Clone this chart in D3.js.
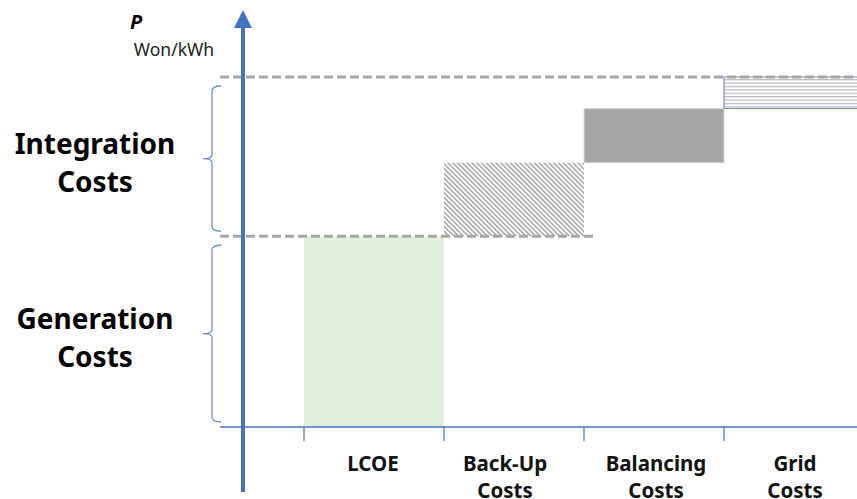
<!DOCTYPE html>
<html><head><meta charset="utf-8">
<script src="https://cdn.jsdelivr.net/npm/d3@7"></script>
<style>body{margin:0;background:#fff}svg{display:block}text{font-family:"Noto Sans",sans-serif}</style>
</head><body>
<svg id="c" width="857" height="499"></svg>
<script>
const categories = ["LCOE", "Back-Up Costs", "Balancing Costs", "Grid Costs"];
const categoryLines = [["LCOE"], ["Back-Up", "Costs"], ["Balancing", "Costs"], ["Grid", "Costs"]];
const costValues = [54.5, 21, 15.5, 9];
const groupNames = [["Generation", "Costs"], ["Integration", "Costs"]];
const groupRanges = [[0, 54.5], [54.5, 100]];
const yUnit = ["P", "Won/kWh"];

const svg = d3.select("#c");
const blue = "#4472c4", gray = "#a6a6a6";

const y = d3.scaleLinear().domain([0, 100]).range([427, 77]);
const x = d3.scaleBand().domain(categories).range([304, 864]).padding(0);

let acc = 0;
const bars = categories.map((c, i) => { const b = {c, y0: acc, y1: acc + costValues[i]}; acc += costValues[i]; return b; });
const total = acc;

const defs = svg.append("defs");
const p1 = defs.append("pattern").attr("id", "diag").attr("patternUnits", "userSpaceOnUse")
  .attr("width", 3.4).attr("height", 10).attr("patternTransform", "rotate(-45)");
p1.append("line").attr("x1", 1).attr("x2", 1).attr("y1", 0).attr("y2", 10).attr("stroke", gray).attr("stroke-width", 1.6);
const p2 = defs.append("pattern").attr("id", "horiz").attr("patternUnits", "userSpaceOnUse")
  .attr("width", 10).attr("height", 3.4);
p2.append("line").attr("x1", 0).attr("x2", 10).attr("y1", 1.5).attr("y2", 1.5).attr("stroke", "#b4b4b4").attr("stroke-width", 1.1);
defs.append("clipPath").attr("id", "clip").append("rect").attr("x", 0).attr("y", 0).attr("width", 857).attr("height", 499);

const g = svg.append("g").attr("clip-path", "url(#clip)");
const fills = ["#e2efda", "url(#diag)", "#a5a5a5", "url(#horiz)"];
const strokes = ["none", "none", "#d9d9d9", "none"];
g.selectAll("rect.bar").data(bars).join("rect").attr("class", "bar")
  .attr("x", d => x(d.c)).attr("width", x.bandwidth())
  .attr("y", d => y(d.y1)).attr("height", d => y(d.y0) - y(d.y1))
  .attr("fill", (d, i) => fills[i]).attr("stroke", (d, i) => strokes[i]).attr("stroke-width", 1);
const gb = bars[3];
g.append("path").attr("d", `M${x(gb.c) + x.bandwidth() + 5},${y(gb.y1)} H${x(gb.c)} V${y(gb.y0)} H${x(gb.c) + x.bandwidth() + 5}`)
  .attr("fill", "none").attr("stroke", "#6f8fcf").attr("stroke-width", 1.2);

svg.append("line").attr("x1", 220).attr("x2", 857).attr("y1", y(total)).attr("y2", y(total))
  .attr("stroke", gray).attr("stroke-width", 3).attr("stroke-dasharray", "9,4");
svg.append("line").attr("x1", 220).attr("x2", x(categories[2]) + 9).attr("y1", y(bars[0].y1)).attr("y2", y(bars[0].y1))
  .attr("stroke", gray).attr("stroke-width", 3).attr("stroke-dasharray", "9,4");

svg.append("line").attr("x1", 220).attr("x2", 857).attr("y1", y(0)).attr("y2", y(0)).attr("stroke", blue).attr("stroke-width", 1.3);
svg.selectAll("line.tick").data(categories).join("line").attr("class", "tick")
  .attr("x1", d => x(d)).attr("x2", d => x(d)).attr("y1", y(0)).attr("y2", y(0) + 14)
  .attr("stroke", blue).attr("stroke-width", 1.2);

const labelNudge = [-1, -9, 2, 1];
categoryLines.forEach((lines, i) => {
  const cx = x(categories[i]) + x.bandwidth() / 2 + labelNudge[i];
  const t = svg.append("text").attr("x", cx).attr("y", 471)
    .attr("text-anchor", "middle").attr("font-size", 20.5).attr("font-weight", "bold").attr("fill", "#111");
  lines.forEach((l, j) => t.append("tspan").attr("x", cx).attr("dy", j ? 27 : 0).text(l));
});

svg.append("line").attr("x1", 243).attr("x2", 243).attr("y1", 492).attr("y2", 26).attr("stroke", blue).attr("stroke-width", 4);
svg.append("path").attr("d", "M243,10 L252,28 L234,28 Z").attr("fill", blue);

svg.append("text").attr("x", 130).attr("y", 29).attr("font-size", 20).attr("font-weight", "bold").attr("font-style", "italic").text(yUnit[0]);
svg.append("text").attr("x", 174).attr("y", 56).attr("text-anchor", "middle").attr("font-size", 17.5).attr("fill", "#222").text(yUnit[1]);

groupRanges.forEach((r, i) => {
  const top = y(r[1]) + 9, bot = y(r[0]) - 5, mid = (top + bot) / 2;
  svg.append("path").attr("d",
    `M221,${top} Q212,${top} 212,${top + 5} V${mid - 4} Q212,${mid} 203,${mid} Q212,${mid} 212,${mid + 4} V${bot - 5} Q212,${bot} 221,${bot}`)
    .attr("fill", "none").attr("stroke", "#6f8fcf").attr("stroke-width", 1.3);
  const t = svg.append("text").attr("x", 95).attr("y", mid - 5).attr("text-anchor", "middle")
    .attr("font-size", 28).attr("font-weight", "bold").attr("fill", "#000");
  groupNames[i].forEach((l, j) => t.append("tspan").attr("x", 95).attr("dy", j ? 38 : 0).text(l));
});
</script>
</body></html>
